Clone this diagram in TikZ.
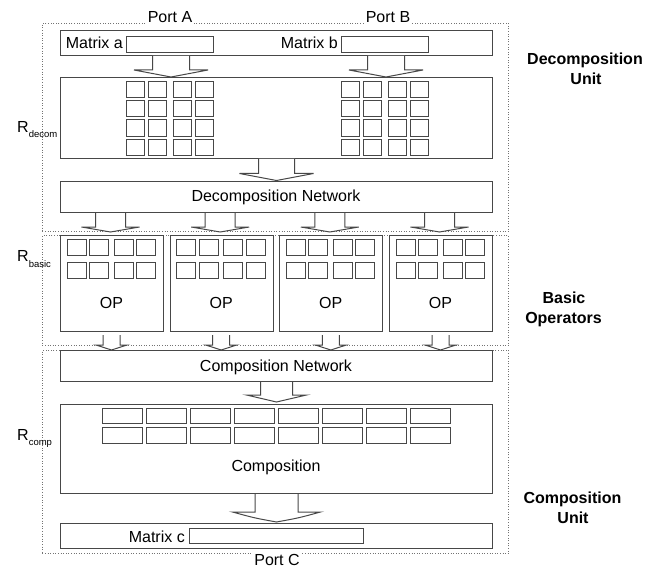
\documentclass[tikz,border=0pt]{standalone}
\usepackage{fontspec}
\setmainfont{Liberation Sans}
\usetikzlibrary{calc}
\definecolor{linec}{gray}{0.28}
\definecolor{dotc}{gray}{0.45}
\tikzset{
  box/.style={draw=linec, line width=1pt, fill=white, inner sep=0pt, anchor=north west},
  cell/.style={draw=linec, line width=0.9pt},
  region/.style={draw=dotc, line width=0.9pt, dash pattern=on 0.9pt off 1.7pt,
    inner sep=0pt, anchor=north west},
  arrowbody/.style={draw=linec, line width=1pt, fill=white, line join=miter},
  lbl/.style={font=\fontsize{16}{20}\selectfont, inner sep=0pt, anchor=base},
  port/.style={font=\fontsize{16}{20}\selectfont, inner sep=1.5pt, anchor=base, fill=white},
  unitlbl/.style={font=\fontsize{16}{20}\selectfont\bfseries, inner sep=0pt, anchor=base},
  rlbl/.style={font=\fontsize{16}{20}\selectfont, inner sep=0pt, anchor=base west},
}
% block arrow: #1 top point, #2 tip point, #3 half shaft, #4 half wing, #5 head depth
\newcommand\blockarrow[5]{%
  \draw[arrowbody] let \p1=#1, \p2=#2 in
    (\x1-#3,\y1) -- (\x1-#3,\y2+#5) -- (\x1-#4,\y2+#5)
    .. controls (\x1-0.5*#4,\y2+0.4*#5) .. (\x1,\y2)
    .. controls (\x1+0.5*#4,\y2+0.4*#5) .. (\x1+#4,\y2+#5)
    -- (\x1+#3,\y2+#5) -- (\x1+#3,\y1);}
\newcommand\sublbl[1]{\raisebox{-5.5pt}{\fontsize{9.5}{10}\selectfont #1}}
\begin{document}
\begin{tikzpicture}[x=1pt,y=-1pt]
\useasboundingbox (0,0) rectangle (659,567);
\fill[white] (0,0) rectangle (659,567);

% dotted unit regions
\node[region, minimum width=466pt, minimum height=208pt] (rdec) at (42,23) {};
\node[region, minimum width=466pt, minimum height=110pt] (rbas) at (42,235) {};
\node[region, minimum width=466pt, minimum height=203pt] (rcom) at (42,350) {};

% decomposition unit
\node[box, minimum width=432pt, minimum height=25pt] (mrow) at (60,30) {};
\node[box, minimum width=87pt, minimum height=16pt] (fa) at (126,36) {};
\node[box, minimum width=87pt, minimum height=16pt] (fb) at (341,36) {};
\node[lbl, anchor=base east] (ta) at (123,48.3) {Matrix a};
\node[lbl, anchor=base east] (tb) at (338,48.3) {Matrix b};

\node[box, minimum width=432pt, minimum height=81pt] (decom) at (60,77) {};
\foreach \gx in {0,215}
  \foreach \cx in {126,148,173,195}
    \foreach \ry in {81,100,119.5,139}
      \draw[cell] (\gx+\cx,\ry) rectangle ++(18,16.5);

\node[box, minimum width=432pt, minimum height=31pt] (dnet) at (60,181) {};
\node[lbl] (tdnet) at (276,201.5) {Decomposition Network};

% basic operators
\foreach \k/\ox in {1/60,2/169.7,3/279.3,4/389}{
  \node[box, minimum width=103pt, minimum height=96pt] (op\k) at (\ox,235) {};
  \node[lbl] (top\k) at (\ox+51.5,308) {OP};
  \foreach \cx in {7,29.5,54,76.5}
    \foreach \ry in {239,262}
      \draw[cell] (\ox+\cx,\ry) rectangle ++(19,16);
}

% composition unit
\node[box, minimum width=432pt, minimum height=31pt] (cnet) at (60,350) {};
\node[lbl] (tcnet) at (276,371.5) {Composition Network};

\node[box, minimum width=432pt, minimum height=89pt] (comp) at (60,404) {};
\foreach \i in {0,...,7}
  \foreach \ry in {408,427.5}
    \draw[cell] (102+44*\i,\ry) rectangle ++(40,15.5);
\node[lbl] (tcomp) at (276,471.5) {Composition};

\node[box, minimum width=432pt, minimum height=25pt] (mc) at (60,523) {};
\node[box, minimum width=174pt, minimum height=15pt] (fc) at (189,528) {};
\node[lbl, anchor=base east] (tc) at (185,542) {Matrix c};

% block arrows between stages
\blockarrow{([xshift=1pt]mrow.south -| fa.center)}{([xshift=1pt]decom.north -| fa.center)}{18.5pt}{37pt}{7pt}
\blockarrow{([xshift=1pt]mrow.south -| fb.center)}{([xshift=1pt]decom.north -| fb.center)}{18.5pt}{37pt}{7pt}
\blockarrow{(decom.south)}{([yshift=0.5pt]dnet.north)}{18pt}{37pt}{7pt}
\foreach \k in {1,...,4}{
  \blockarrow{([xshift=-1.5pt]dnet.south -| op\k.north)}{([xshift=-1.5pt,yshift=3pt]op\k.north)}{15pt}{29pt}{5pt}
  \blockarrow{([xshift=-0.5pt,yshift=-3pt]op\k.south)}{([xshift=-0.5pt]cnet.north -| op\k.south)}{8.5pt}{15.5pt}{5pt}
}
\blockarrow{(cnet.south)}{([yshift=2pt]comp.north)}{16pt}{30pt}{7pt}
\blockarrow{(comp.south)}{([yshift=1pt]mc.north)}{21.5pt}{44pt}{10pt}

% ports
\node[port] (pa) at (170,23) {Port A};
\node[port] (pb) at (388,23) {Port B};
\node[port] (pc) at (277,565) {Port C};

% region labels on the left
\node[rlbl] (rd) at (17,132.3) {R\sublbl{decom}};
\node[rlbl] (rb) at (17,261.7) {R\sublbl{basic}};
\node[rlbl] (rc) at (17,440) {R\sublbl{comp}};

% unit names on the right
\node[unitlbl] (du1) at (585,65) {Decomposition};
\node[unitlbl] (du2) at (586,85) {Unit};
\node[unitlbl] (bo1) at (564,303.3) {Basic};
\node[unitlbl] (bo2) at (563.5,323.5) {Operators};
\node[unitlbl] (cu1) at (572.5,503.3) {Composition};
\node[unitlbl] (cu2) at (573,523.3) {Unit};
\end{tikzpicture}
\end{document}
